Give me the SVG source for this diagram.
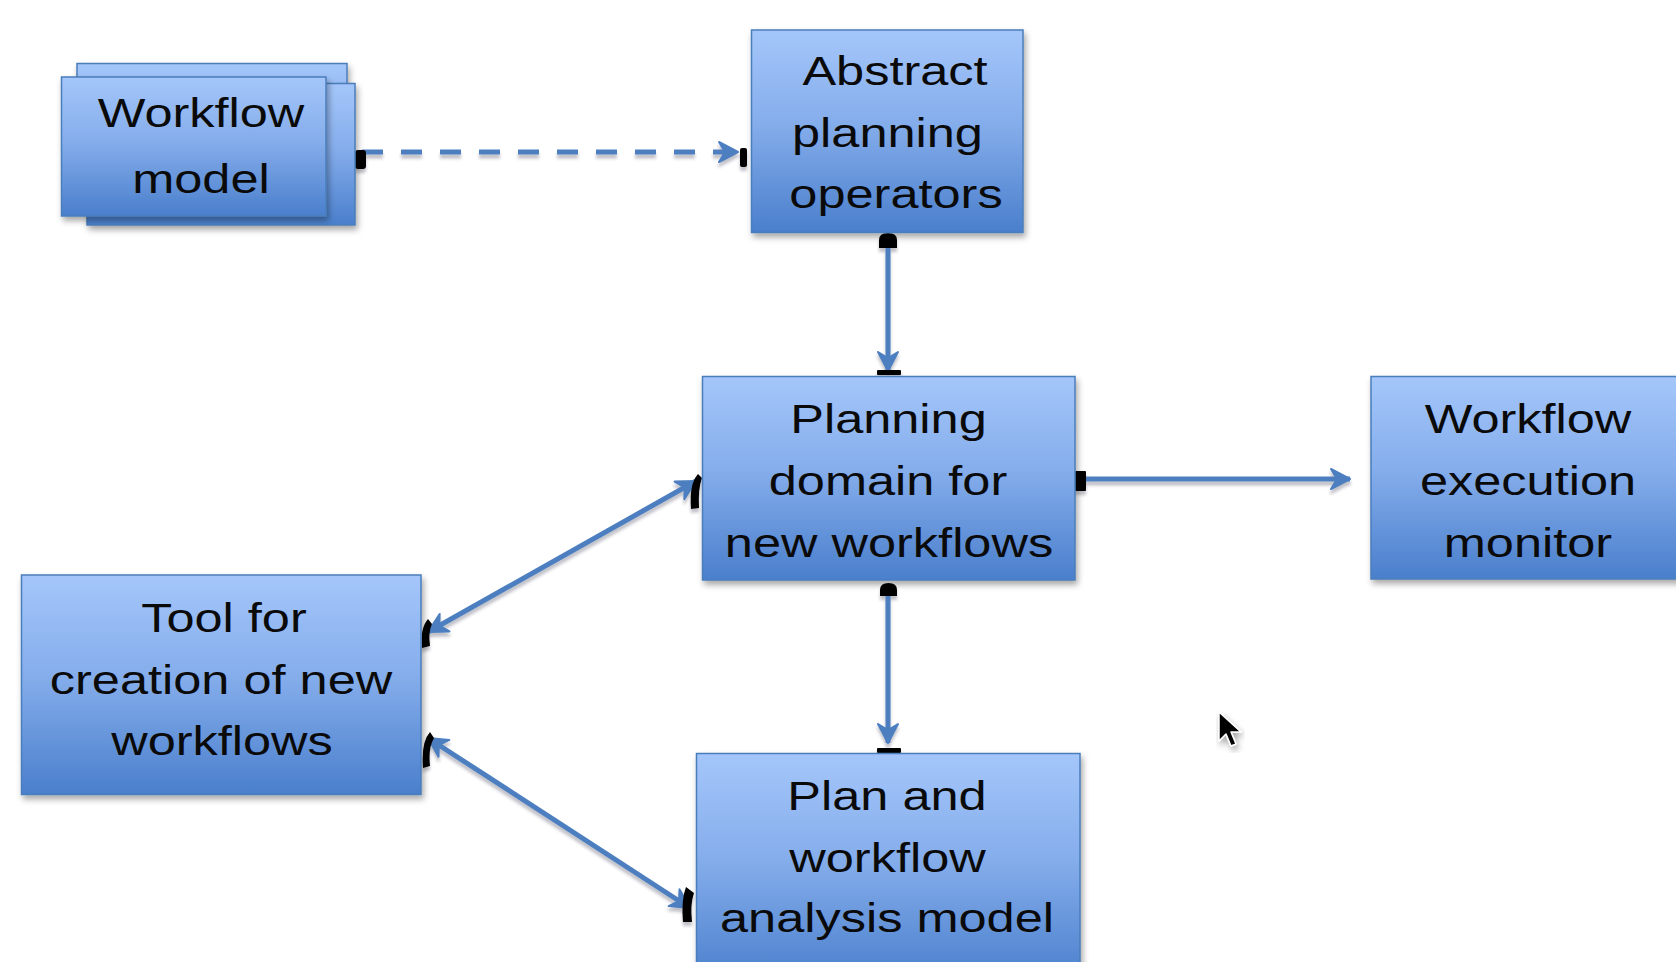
<svg xmlns="http://www.w3.org/2000/svg" width="1676" height="962" viewBox="0 0 1676 962">
<defs>
<linearGradient id="boxfill" x1="0" y1="0" x2="0" y2="1">
<stop offset="0" stop-color="#A4C6FA"/>
<stop offset="0.45" stop-color="#86AEEC"/>
<stop offset="1" stop-color="#4A7FCC"/>
</linearGradient>
<filter id="shadow" x="-10%" y="-10%" width="125%" height="130%">
<feDropShadow dx="2" dy="4" stdDeviation="3" flood-color="#000" flood-opacity="0.35"/>
</filter>
<filter id="lshadow" x="-20%" y="-20%" width="140%" height="160%">
<feDropShadow dx="0" dy="4" stdDeviation="1.5" flood-color="#334" flood-opacity="0.3"/>
</filter>
<marker id="arr" viewBox="0 0 26 26" refX="23" refY="13" markerWidth="26" markerHeight="26" markerUnits="userSpaceOnUse" orient="auto-start-reverse">
<path d="M4,3 L23,13 L4,23 L10,13 z" fill="#4D7FC0" stroke="#4D7FC0" stroke-width="2" stroke-linejoin="round"/>
</marker>
<style>
.box{fill:url(#boxfill);stroke:#4A7EBB;stroke-width:1.5;}
.t{font-family:"Liberation Sans",Arial,Helvetica,sans-serif;font-size:50.5px;fill:#0a0a0a;text-anchor:middle;}
.ln{stroke:#4D7FC0;stroke-width:5;fill:none;}
.dash{stroke-dasharray:21 18;}
.blob{fill:#000;}
</style>
</defs>
<rect width="1676" height="962" fill="#ffffff"/>

<g id="connectors" filter="url(#lshadow)">
<line class="ln dash" x1="362" y1="152" x2="738" y2="152" marker-end="url(#arr)"/>
<rect class="blob" x="355" y="150" width="11" height="19" rx="3"/>
<rect class="blob" x="740" y="148" width="7" height="19" rx="2"/>

<line class="ln" x1="888" y1="240" x2="888" y2="371" marker-end="url(#arr)"/>
<path class="blob" d="M879,248 L879,240 Q879,233 888,233 Q897,233 897,240 L897,248 Z"/>
<rect class="blob" x="877" y="370" width="24" height="5" rx="1"/>

<line class="ln" x1="1080" y1="479" x2="1350" y2="479" marker-end="url(#arr)"/>
<rect class="blob" x="1075" y="471" width="11" height="20" rx="1"/>

<line class="ln" x1="888" y1="590" x2="888" y2="743" marker-end="url(#arr)"/>
<path class="blob" d="M880,596 L880,590 Q880,583 888.5,583 Q897,583 897,590 L897,596 Z"/>
<rect class="blob" x="877" y="748" width="24" height="5" rx="1"/>

<line class="ln" x1="428" y1="632" x2="696" y2="481" marker-start="url(#arr)" marker-end="url(#arr)"/>
<path class="blob" d="M698,474 Q689,484 691,509 L699,508 Q698,488 702,478 Z"/>
<path class="blob" d="M428,619 Q420,628 422,648 L430,646 Q428,632 432,624 Z"/>

<line class="ln" x1="428" y1="738" x2="690" y2="908" marker-start="url(#arr)" marker-end="url(#arr)"/>
<path class="blob" d="M430,732 Q421,742 423,768 L430,766 Q428,748 434,738 Z"/>
<path class="blob" d="M686,887 Q681,900 683,922 L692,922 Q690,904 694,893 Z"/>
</g>

<g id="workflow-model">
<rect class="box" x="77" y="63.5" width="270" height="143" filter="url(#shadow)"/>
<rect class="box" x="87" y="83.5" width="268" height="141.5" filter="url(#shadow)"/>
<rect class="box" x="61.5" y="77" width="264.5" height="139" filter="url(#shadow)"/>
<text class="t" transform="matrix(1 0 0 0.8 0 127)"><tspan x="201" y="0">Workflow</tspan><tspan x="201" dy="82.5">model</tspan></text>
</g>

<g id="abstract-planning-operators">
<rect class="box" x="751.5" y="30" width="271.5" height="202.5" filter="url(#shadow)"/>
<text class="t" transform="matrix(1 0 0 0.8 0 85)"><tspan x="895" y="0">Abstract</tspan><tspan x="887.5" dy="77.5">planning</tspan><tspan x="896" dy="76">operators</tspan></text>
</g>

<g id="planning-domain">
<rect class="box" x="702.5" y="376.5" width="372.5" height="203.5" filter="url(#shadow)"/>
<text class="t" transform="matrix(1 0 0 0.8 0 433)"><tspan x="888.5" y="0">Planning</tspan><tspan x="888" dy="77.5">domain for</tspan><tspan x="889" dy="77.5">new workflows</tspan></text>
</g>

<g id="workflow-execution-monitor">
<rect class="box" x="1371" y="376.5" width="330" height="202.5" filter="url(#shadow)"/>
<text class="t" transform="matrix(1 0 0 0.8 0 433)"><tspan x="1528" y="0">Workflow</tspan><tspan x="1528" dy="77.5">execution</tspan><tspan x="1528" dy="77.5">monitor</tspan></text>
</g>

<g id="tool-creation">
<rect class="box" x="21.5" y="575" width="399.5" height="219.5" filter="url(#shadow)"/>
<text class="t" transform="matrix(1 0 0 0.8 0 632)"><tspan x="224" y="0">Tool for</tspan><tspan x="221" dy="77">creation of new</tspan><tspan x="222" dy="77">workflows</tspan></text>
</g>

<g id="plan-workflow-analysis">
<rect class="box" x="696.5" y="753.5" width="383.5" height="230" filter="url(#shadow)"/>
<text class="t" transform="matrix(1 0 0 0.8 0 810)"><tspan x="887" y="0">Plan and</tspan><tspan x="887.5" dy="77.5">workflow</tspan><tspan x="887" dy="75">analysis model</tspan></text>
</g>

<g id="cursor">
<path d="M1219,712 L1219,741 L1226,734 L1231,746 L1236,744 L1231,732 L1241,732 Z" fill="#000" stroke="#fff" stroke-width="1.5" stroke-linejoin="round" filter="url(#shadow)"/>
</g>
</svg>
